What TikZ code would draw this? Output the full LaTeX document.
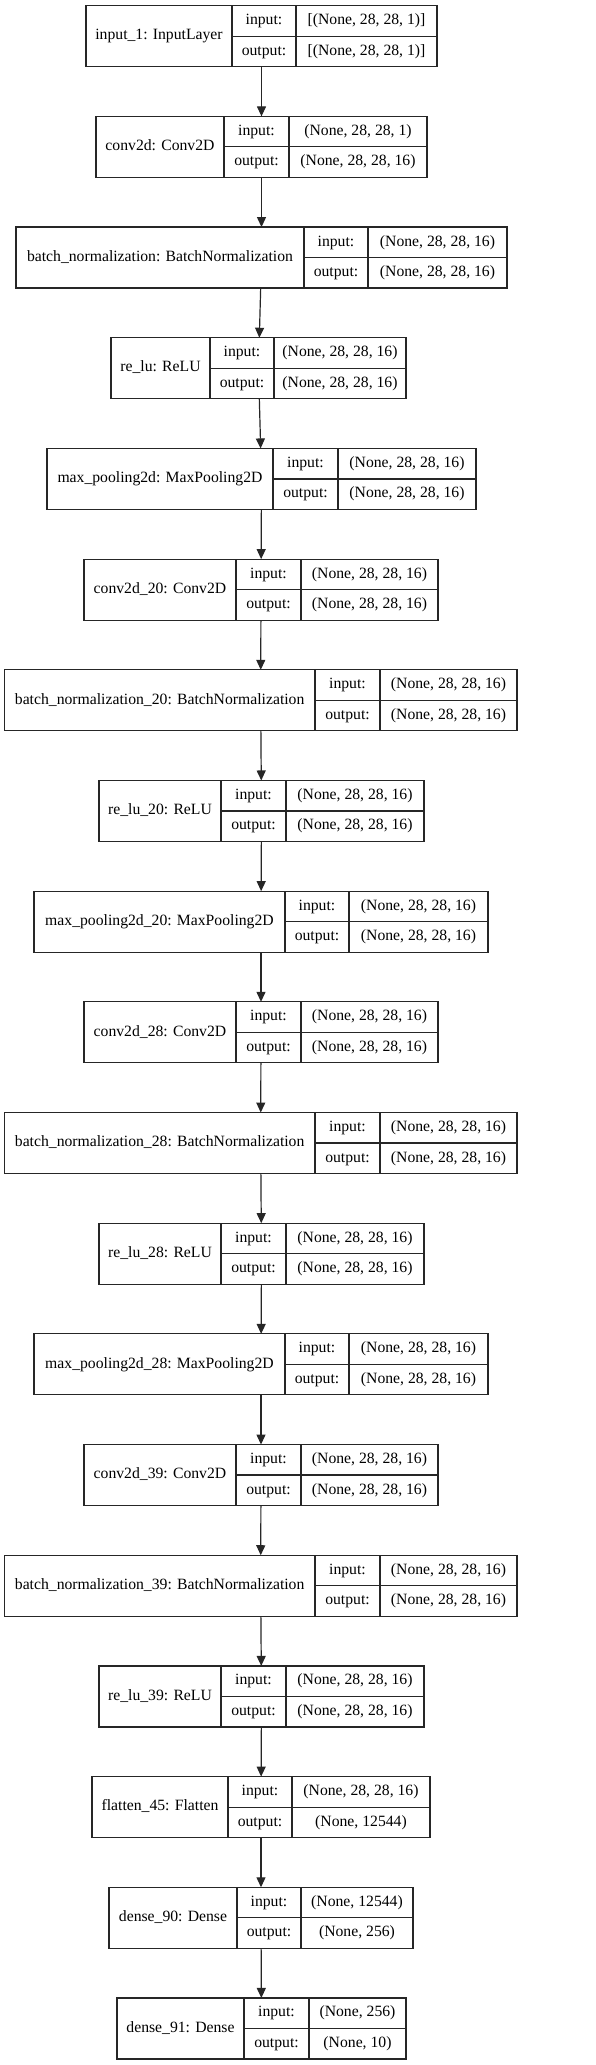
\documentclass[tikz,border=0pt]{standalone}
\usepackage{fontspec}
\setmainfont{Liberation Serif}
\usetikzlibrary{arrows.meta}

\tikzset{
  layerbox/.style={draw=black!85, line width=1.2pt, inner sep=0pt, outer sep=0pt},
  celltext/.style={inner sep=0pt, font=\fontsize{15.7}{18}\selectfont, text height=11pt, text depth=3.5pt},
  flow/.style={draw=black!85, line width=1.2pt, -{Triangle[length=10pt,width=9pt]}}
}

% one layer record: name, row, left, divider 1, divider 2, right, label, input, output
\newcommand{\layer}[9]{%
  \pgfmathsetmacro{\lyTop}{-5.7-110.68*#2}
  \pgfmathsetmacro{\lyBot}{\lyTop-61}
  \pgfmathsetmacro{\lyMid}{\lyTop-30.5}
  \pgfmathsetmacro{\lyW}{#6-#3}
  \node[layerbox, minimum width=\lyW pt, minimum height=61pt] (#1) at ({(#3+#6)/2},\lyMid) {};
  \draw[layerbox] (#4,\lyTop) -- (#4,\lyBot);
  \draw[layerbox] (#5,\lyTop) -- (#5,\lyBot);
  \draw[layerbox] (#4,\lyMid) -- (#6,\lyMid);
  \node[celltext] (#1-name) at ({(#3+#4)/2},\lyMid) {#7};
  \node[celltext] (#1-inkey) at ({(#4+#5)/2},\lyTop-15.25) {input:};
  \node[celltext] (#1-outkey) at ({(#4+#5)/2},\lyTop-45.75) {output:};
  \node[celltext] (#1-in) at ({(#5+#6)/2},\lyTop-15.25) {#8};
  \node[celltext] (#1-out) at ({(#5+#6)/2},\lyTop-45.75) {#9};
}

\begin{document}
\begin{tikzpicture}[x=1pt, y=1pt]
  \useasboundingbox (0,0) rectangle (596,-2065);

  % Layers
  \layer{inp}{0}{86}{232}{296}{437}{input\_1: InputLayer}{[(None, 28, 28, 1)]}{[(None, 28, 28, 1)]}
  \layer{conv}{1}{96}{224}{289}{427}{conv2d: Conv2D}{(None, 28, 28, 1)}{(None, 28, 28, 16)}
  \layer{bn}{2}{16}{304}{368}{507}{batch\_normalization: BatchNormalization}{(None, 28, 28, 16)}{(None, 28, 28, 16)}
  \layer{relu}{3}{111}{210}{274}{406}{re\_lu: ReLU}{(None, 28, 28, 16)}{(None, 28, 28, 16)}
  \layer{pool}{4}{47}{273}{338}{476}{max\_pooling2d: MaxPooling2D}{(None, 28, 28, 16)}{(None, 28, 28, 16)}
  \layer{convA}{5}{84}{236}{301}{438}{conv2d\_20: Conv2D}{(None, 28, 28, 16)}{(None, 28, 28, 16)}
  \layer{bnA}{6}{4.3}{315}{380}{517}{batch\_normalization\_20: BatchNormalization}{(None, 28, 28, 16)}{(None, 28, 28, 16)}
  \layer{reluA}{7}{99}{221}{286}{424}{re\_lu\_20: ReLU}{(None, 28, 28, 16)}{(None, 28, 28, 16)}
  \layer{poolA}{8}{34}{285}{349}{488}{max\_pooling2d\_20: MaxPooling2D}{(None, 28, 28, 16)}{(None, 28, 28, 16)}
  \layer{convB}{9}{84}{236}{301}{438}{conv2d\_28: Conv2D}{(None, 28, 28, 16)}{(None, 28, 28, 16)}
  \layer{bnB}{10}{4.3}{315}{380}{517}{batch\_normalization\_28: BatchNormalization}{(None, 28, 28, 16)}{(None, 28, 28, 16)}
  \layer{reluB}{11}{99}{221}{286}{424}{re\_lu\_28: ReLU}{(None, 28, 28, 16)}{(None, 28, 28, 16)}
  \layer{poolB}{12}{34}{285}{349}{488}{max\_pooling2d\_28: MaxPooling2D}{(None, 28, 28, 16)}{(None, 28, 28, 16)}
  \layer{convC}{13}{84}{236}{301}{438}{conv2d\_39: Conv2D}{(None, 28, 28, 16)}{(None, 28, 28, 16)}
  \layer{bnC}{14}{4.3}{315}{380}{517}{batch\_normalization\_39: BatchNormalization}{(None, 28, 28, 16)}{(None, 28, 28, 16)}
  \layer{reluC}{15}{99}{221}{286}{424}{re\_lu\_39: ReLU}{(None, 28, 28, 16)}{(None, 28, 28, 16)}
  \layer{flat}{16}{92}{228}{292}{430}{flatten\_45: Flatten}{(None, 28, 28, 16)}{(None, 12544)}
  \layer{denseA}{17}{109}{237}{301}{413}{dense\_90: Dense}{(None, 12544)}{(None, 256)}
  \layer{denseB}{18}{117}{244}{309}{406}{dense\_91: Dense}{(None, 256)}{(None, 10)}

  % Arrows
  \foreach \from/\to in {inp/conv, conv/bn, bn/relu, relu/pool, pool/convA, convA/bnA, bnA/reluA,
      reluA/poolA, poolA/convB, convB/bnB, bnB/reluB, reluB/poolB, poolB/convC, convC/bnC,
      bnC/reluC, reluC/flat, flat/denseA, denseA/denseB}
    \draw[flow] (\from) -- (\to);
\end{tikzpicture}
\end{document}
